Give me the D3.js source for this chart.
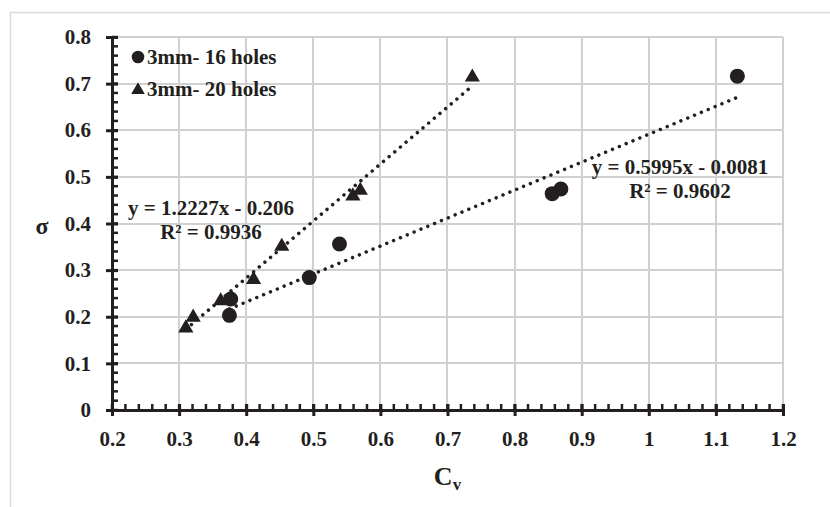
<!DOCTYPE html>
<html>
<head>
<meta charset="utf-8">
<script src="https://cdn.jsdelivr.net/npm/d3@7"></script>
<style>
  body { margin: 0; background: #fff; }
  text { font-family: "Liberation Serif", "Times New Roman", serif; font-weight: bold; fill: #231f20; }
</style>
</head>
<body>
<svg id="chart"></svg>
<script>
// data
var cv16    = [0.375, 0.377, 0.494, 0.539, 0.856, 0.869, 1.132];
var sigma16 = [0.203, 0.238, 0.284, 0.356, 0.464, 0.474, 0.716];
var cv20    = [0.310, 0.321, 0.362, 0.411, 0.453, 0.559, 0.570, 0.737];
var sigma20 = [0.178, 0.201, 0.236, 0.282, 0.353, 0.461, 0.473, 0.716];
var seriesNames = ["3mm- 16 holes", "3mm- 20 holes"];
var trend16 = { slope: 0.5995, icpt: -0.0081, label: "y = 0.5995x - 0.0081", r2: "R² = 0.9602" };
var trend20 = { slope: 1.2227, icpt: -0.206, label: "y = 1.2227x - 0.206", r2: "R² = 0.9936" };
var xTicks = [0.2, 0.3, 0.4, 0.5, 0.6, 0.7, 0.8, 0.9, 1, 1.1, 1.2];
var yTicks = [0, 0.1, 0.2, 0.3, 0.4, 0.5, 0.6, 0.7, 0.8];

var size = { width: 830, height: 507 };
var margin = { top: 37, right: 47, bottom: 97, left: 112 };
var width = size.width - margin.left - margin.right;
var height = size.height - margin.top - margin.bottom;
var ink = "#231f20";
var gridColor = "#d0d0d0";

var svg = d3.select("#chart")
  .attr("width", size.width)
  .attr("height", size.height);

// outer frame
svg.append("rect")
  .attr("x", 10.5).attr("y", 12.5)
  .attr("width", 840).attr("height", 520)
  .attr("fill", "none")
  .attr("stroke", "#d9d9d9")
  .attr("stroke-width", 1.5);

var x = d3.scaleLinear().domain([0.2, 1.2]).range([margin.left, margin.left + width]);
var y = d3.scaleLinear().domain([0, 0.8]).range([margin.top + height, margin.top]);

// grid
svg.append("path")
  .attr("d", xTicks.slice(1).map(function(d){
      var px = Math.round(x(d));
      return "M" + px + "," + margin.top + "V" + (margin.top + height);
    }).join("") +
    yTicks.slice(1).map(function(d){
      var py = Math.round(y(d));
      return "M" + margin.left + "," + py + "H" + (margin.left + width);
    }).join(""))
  .attr("fill", "none")
  .attr("stroke", gridColor)
  .attr("stroke-width", 2);

var g = svg.append("g");

// minor ticks
var xMinor = d3.range(0.2, 1.2001, 0.02);
var yMinor = d3.range(0, 0.8001, 0.02);
g.append("g").selectAll("line")
  .data(xMinor)
  .enter().append("line")
  .attr("x1", function(d){ return x(d); })
  .attr("x2", function(d){ return x(d); })
  .attr("y1", y(0)).attr("y2", y(0) - 6)
  .attr("stroke", ink).attr("stroke-width", 2.5);
g.append("g").selectAll("line")
  .data(yMinor)
  .enter().append("line")
  .attr("x1", x(0.2)).attr("x2", x(0.2) + 6)
  .attr("y1", function(d){ return y(d); })
  .attr("y2", function(d){ return y(d); })
  .attr("stroke", ink).attr("stroke-width", 2.5);

// axes
var xAxis = g.append("g")
  .attr("transform", "translate(0," + y(0) + ")")
  .call(d3.axisBottom(x).tickValues(xTicks).tickSizeOuter(0).tickSize(6).tickFormat(d3.format("")));
xAxis.select(".domain").attr("stroke", ink).attr("stroke-width", 3);
xAxis.selectAll(".tick line").attr("y1", -6).attr("y2", 6).attr("stroke", ink).attr("stroke-width", 3);
xAxis.selectAll(".tick text").attr("y", 36).attr("dy", 0).attr("font-size", 21).attr("fill", ink);

var yAxis = g.append("g")
  .attr("transform", "translate(" + x(0.2) + ",0)")
  .call(d3.axisLeft(y).tickValues(yTicks).tickSizeOuter(0).tickSize(6).tickFormat(d3.format("")));
yAxis.select(".domain").attr("stroke", ink).attr("stroke-width", 3);
yAxis.selectAll(".tick line").attr("x1", 6).attr("x2", -6).attr("stroke", ink).attr("stroke-width", 3);
yAxis.selectAll(".tick text").attr("x", -21).attr("font-size", 21).attr("fill", ink);
svg.selectAll(".tick text").style("font-family", "'Liberation Serif', 'Times New Roman', serif").style("font-weight", "bold");

// axis titles
var xt = svg.append("text")
  .attr("x", margin.left + width / 2)
  .attr("y", 485)
  .attr("text-anchor", "middle")
  .attr("font-size", 26);
xt.append("tspan").text("C");
xt.append("tspan").attr("font-size", 17).attr("dy", 5).text("v");

svg.append("text")
  .attr("x", 42)
  .attr("y", 234)
  .attr("text-anchor", "middle")
  .attr("font-size", 24)
  .text("σ");

// trendlines
var line = d3.line()
  .x(function(d){ return x(d[0]); })
  .y(function(d){ return y(d[1]); });

function trendPath(xs, t){
  var ext = d3.extent(xs);
  return ext.map(function(v){ return [v, t.slope * v + t.icpt]; });
}

[[cv16, trend16], [cv20, trend20]].forEach(function(p){
  g.append("path")
    .attr("d", line(trendPath(p[0], p[1])))
    .attr("fill", "none")
    .attr("stroke", ink)
    .attr("stroke-width", 3.5)
    .attr("stroke-linecap", "round")
    .attr("stroke-dasharray", "0.01 7.4");
});

// points
var tri = d3.symbol().type(d3.symbolTriangle).size(100);
var triSmall = d3.symbol().type(d3.symbolTriangle).size(80);

g.append("g").selectAll("circle")
  .data(d3.zip(cv16, sigma16))
  .enter().append("circle")
  .attr("cx", function(d){ return x(d[0]); })
  .attr("cy", function(d){ return y(d[1]); })
  .attr("r", 7.5)
  .attr("fill", ink);

g.append("g").selectAll("path")
  .data(d3.zip(cv20, sigma20))
  .enter().append("path")
  .attr("d", tri)
  .attr("transform", function(d){ return "translate(" + x(d[0]) + "," + (y(d[1]) + 1) + ")"; })
  .attr("fill", ink);

// trend labels
function eqLabel(t, cx, by){
  var tx = svg.append("text")
    .attr("text-anchor", "middle")
    .attr("font-size", 21);
  tx.append("tspan").attr("x", cx).attr("y", by).text(t.label);
  tx.append("tspan").attr("x", cx).attr("y", by + 24).text(t.r2);
}
eqLabel(trend20, 211, 215);
eqLabel(trend16, 680, 174);

// legend
var legend = svg.append("g").attr("transform", "translate(138,57)");
legend.append("circle").attr("cx", 0).attr("cy", 0).attr("r", 6.3).attr("fill", ink);
legend.append("path").attr("d", triSmall).attr("transform", "translate(0,33)").attr("fill", ink);
legend.selectAll("text")
  .data(seriesNames)
  .enter().append("text")
  .attr("x", 9)
  .attr("y", function(d, i){ return i * 32 + 7; })
  .attr("font-size", 21)
  .text(function(d){ return d; });
</script>
</body>
</html>
